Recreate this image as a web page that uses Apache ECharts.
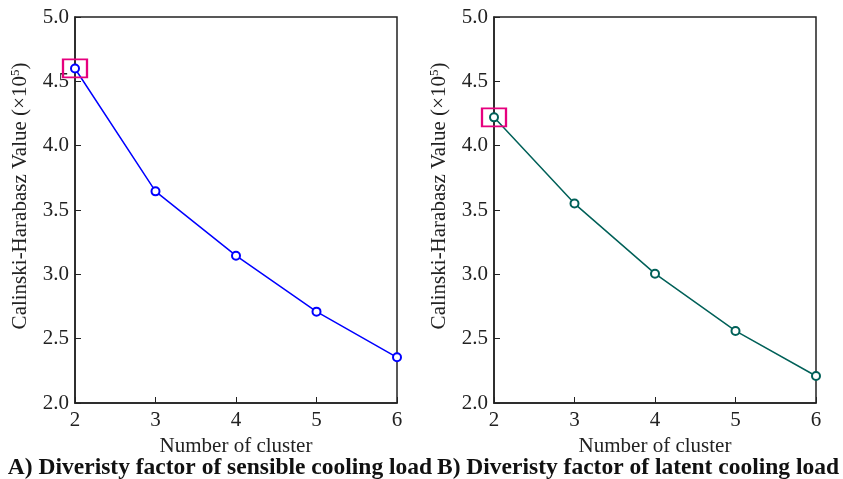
<!DOCTYPE html>
<html><head><meta charset="utf-8">
<script src="https://cdn.jsdelivr.net/npm/echarts@6/dist/echarts.min.js"></script>
<style>html,body{margin:0;padding:0;background:#fff}#c{width:843px;height:479px}</style>
</head><body><div id="c"></div>
<script>
const clusters = [2, 3, 4, 5, 6];
const sensibleCH = [4.60, 3.645, 3.145, 2.71, 2.355];
const latentCH = [4.22, 3.55, 3.005, 2.56, 2.21];
const yTicks = [2.0, 2.5, 3.0, 3.5, 4.0, 4.5, 5.0];
const captions = ['A) Diveristy factor of sensible cooling load', 'B) Diveristy factor of latent cooling load'];
const xName = 'Number of cluster';

const font = 'Liberation Serif';
const chart = echarts.init(document.getElementById('c'));
const grids = [{left: 75, top: 17, width: 322, height: 386}, {left: 494, top: 17, width: 322, height: 386}];
function xAxis(i) {
  return {type: 'value', gridIndex: i, min: 2, max: 6, interval: 1,
    name: xName, nameLocation: 'middle', nameGap: 24,
    nameTextStyle: {fontFamily: font, fontSize: 21, color: '#222'},
    axisLine: {lineStyle: {color: '#222', width: 1.5}},
    axisTick: {inside: true, length: 6, lineStyle: {color: '#222'}},
    axisLabel: {fontFamily: font, fontSize: 21, color: '#222', margin: 7},
    splitLine: {show: false}};
}
function yAxis(i) {
  return {type: 'value', gridIndex: i, min: 2, max: 5, interval: 0.5,
    name: '{n|Calinski-Harabasz Value (×10}{s|5}{n|)}', nameLocation: 'middle', nameGap: 43, nameRotate: 90,
    nameTextStyle: {padding: [0, 0, 0, 28], rich: {n: {fontFamily: font, fontSize: 21, color: '#222'}, s: {fontFamily: font, fontSize: 13, color: '#222', verticalAlign: 'top', padding: [0,0,10,0]}}},
    axisLine: {lineStyle: {color: '#222', width: 1.5}},
    axisTick: {inside: true, length: 6, lineStyle: {color: '#222'}},
    axisLabel: {fontFamily: font, fontSize: 21, color: '#222', margin: 6, formatter: v => v.toFixed(1)},
    splitLine: {show: false}};
}
function series(i, data, color) {
  return {type: 'line', xAxisIndex: i, yAxisIndex: i, data: clusters.map((c, k) => [c, data[k]]),
    symbol: 'emptyCircle', symbolSize: 8, lineStyle: {color: color, width: 1.5},
    itemStyle: {color: color, borderWidth: 1.3},
    markPoint: {symbol: 'rect', symbolSize: [24, 18], silent: true,
      data: [{coord: [clusters[0], data[0]]}],
      itemStyle: {color: 'rgba(0,0,0,0)', borderColor: '#e6007e', borderWidth: 2},
      label: {show: false}}};
}
chart.setOption({
  animation: false,
  grid: grids.map(g => Object.assign({show: true, borderColor: '#222', borderWidth: 1.5}, g)),
  xAxis: [xAxis(0), xAxis(1)],
  yAxis: [yAxis(0), yAxis(1)],
  title: [
    {text: captions[0], left: 215, textAlign: 'center', top: 451, textStyle: {fontFamily: font, fontSize: 23.5, fontWeight: 'bold', color: '#111'}},
    {text: captions[1], left: 633, textAlign: 'center', top: 451, textStyle: {fontFamily: font, fontSize: 23.5, fontWeight: 'bold', color: '#111'}}
  ],
  series: [series(0, sensibleCH, '#0000ff'), series(1, latentCH, '#006058')]
});
</script></body></html>
